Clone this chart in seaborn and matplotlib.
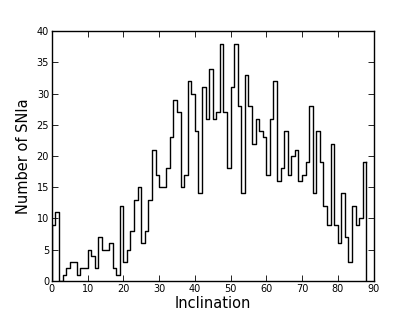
import numpy as np
import pandas as pd
import seaborn as sns
import matplotlib
matplotlib.use("Agg")
import matplotlib.pyplot as plt

# Counts per 1-degree inclination bin (0..88)
bin_edges = list(range(0, 89))
counts = [9, 11, 0, 1, 2, 3, 3, 1, 2, 2,
          5, 4, 2, 7, 5, 5, 6, 2, 1, 12,
          3, 5, 8, 13, 15, 6, 8, 13, 21, 17,
          15, 15, 18, 23, 29, 27, 15, 17, 32, 30,
          24, 14, 31, 26, 34, 26, 27, 38, 27, 18,
          31, 38, 28, 14, 33, 28, 22, 26, 24, 23,
          17, 26, 32, 16, 18, 24, 17, 20, 21, 16,
          17, 19, 28, 14, 24, 19, 12, 9, 22, 9,
          6, 14, 7, 3, 12, 9, 10, 19]

df = pd.DataFrame({
    "inclination": np.array(bin_edges[:-1]) + 0.5,
    "n": counts,
})

plt.rcParams["xtick.direction"] = "in"
plt.rcParams["ytick.direction"] = "in"
plt.rcParams["xtick.top"] = True
plt.rcParams["ytick.right"] = True

fig = plt.figure(figsize=(4.15, 3.12), dpi=100)
ax = fig.add_axes([0.125, 0.1, 0.775, 0.8])

sns.histplot(data=df, x="inclination", weights="n", bins=bin_edges,
             element="step", fill=False, color="black", linewidth=1.0, ax=ax)
# close the step outline down to zero at the last edge, like histtype='step'
ax.plot([bin_edges[-1], bin_edges[-1]], [counts[-1], 0], color="black", lw=1.0)
ax.plot([bin_edges[0], bin_edges[0]], [0, counts[0]], color="black", lw=1.0)

ax.set_xlim(0, 90)
ax.set_ylim(0, 40)
ax.set_xticks(range(0, 91, 10))
ax.set_yticks(range(0, 41, 5))
ax.tick_params(labelsize=7, length=4, width=0.6, pad=2)
for s in ax.spines.values():
    s.set_linewidth(1.0)
ax.set_xlabel("Inclination", fontsize=10.5, labelpad=2)
ax.set_ylabel("Number of SNIa", fontsize=10.5, labelpad=4)

fig.savefig("out.png", dpi=100)
